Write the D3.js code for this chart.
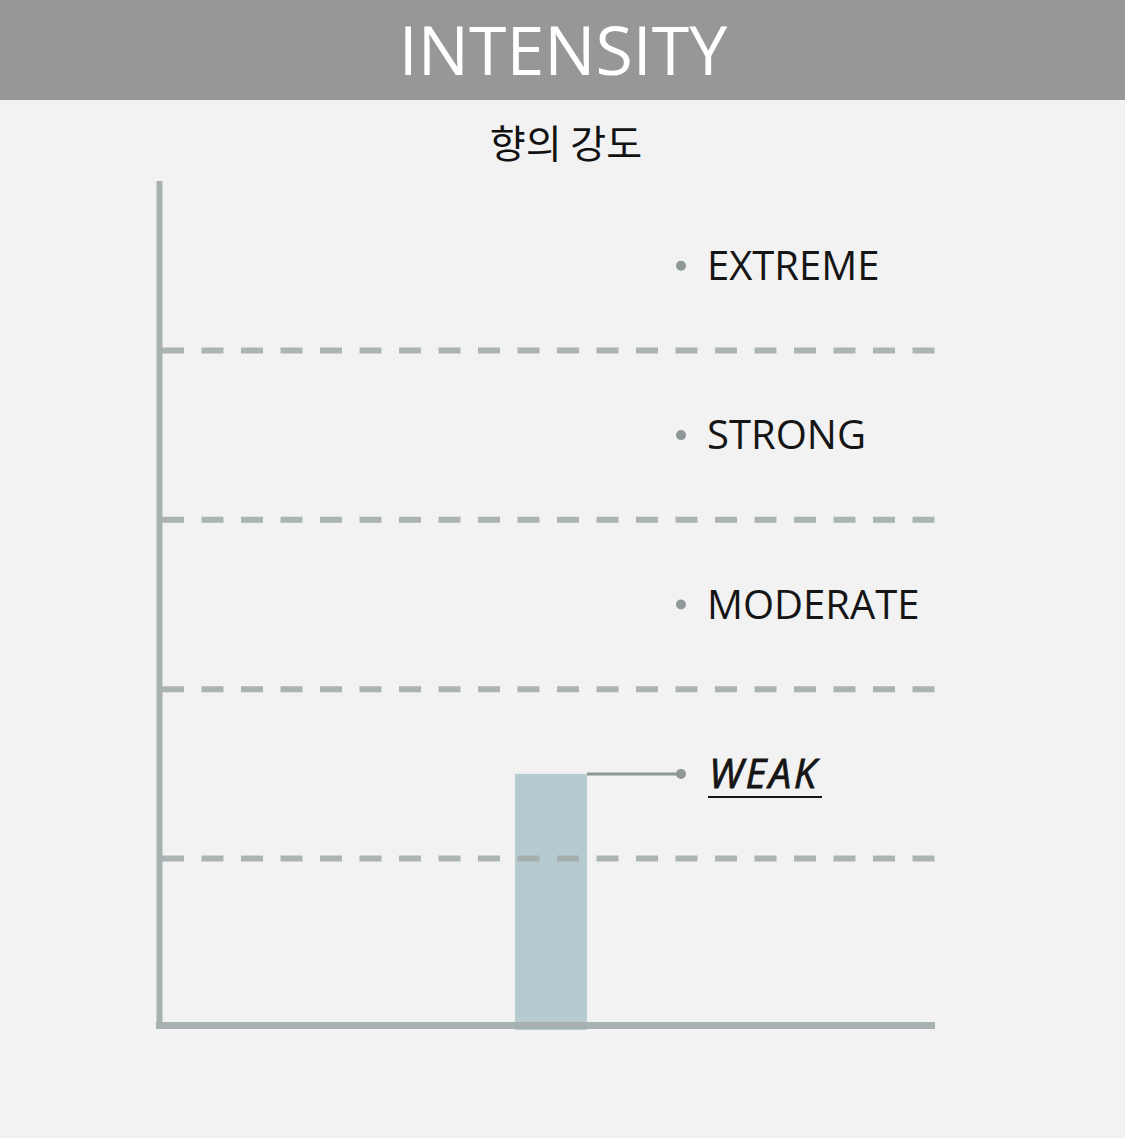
<!DOCTYPE html>
<html>
<head>
<meta charset="utf-8">
<script src="https://cdn.jsdelivr.net/npm/d3@7"></script>
<style>
  html, body { margin: 0; padding: 0; background: #f2f2f2; }
  svg { display: block; }
</style>
</head>
<body>
<script>
// data
const levels = ["WEAK", "MODERATE", "STRONG", "EXTREME"];
const boundaries = [1, 2, 3, 4];
const category = ["향의 강도"];
const intensity = ["WEAK"];

function createChart() {
    const svgWidth = 1125, svgHeight = 1138;

    const svg = d3.create("svg")
        .attr("width", svgWidth)
        .attr("height", svgHeight)
        .style("background", "#f2f2f2");

    // header band
    svg.append("rect")
        .attr("x", 0).attr("y", 0)
        .attr("width", svgWidth).attr("height", 100)
        .attr("fill", "#979797");

    svg.append("text")
        .attr("x", 563)
        .attr("y", 75)
        .attr("text-anchor", "middle")
        .attr("fill", "#fff")
        .style("font-family", "'Open Sans', 'Noto Sans', sans-serif")
        .style("font-size", "68px")
        .text("INTENSITY");

    svg.append("text")
        .attr("x", 566)
        .attr("y", 158)
        .attr("text-anchor", "middle")
        .attr("fill", "#111")
        .style("font-family", "'Noto Sans CJK KR', sans-serif")
        .style("font-size", "39px")
        .text(category[0]);

    // scales
    const y = d3.scaleLinear()
        .domain([0, 5])
        .range([1028, 181]);
    const x = d3.scaleBand()
        .domain(category)
        .range([163, 939])
        .paddingInner(0)
        .paddingOuter(4.89);

    const g = svg.append("g");

    // bar
    const lvl = levels.indexOf(intensity[0]) + 1.5;
    g.append("rect")
        .attr("x", x(category[0]))
        .attr("y", y(lvl))
        .attr("width", x.bandwidth())
        .attr("height", y(0) - y(lvl) + 2)
        .attr("fill", "#b6cbd0");

    // dashed level lines
    g.selectAll("line.grid")
        .data(boundaries)
        .join("line")
        .attr("class", "grid")
        .attr("x1", 162)
        .attr("x2", 935)
        .attr("y1", d => y(d))
        .attr("y2", d => y(d))
        .attr("stroke", "#a3acac")
        .attr("stroke-opacity", 0.9)
        .attr("stroke-width", 6)
        .attr("stroke-dasharray", "22 17.5");

    // axes
    g.append("line")
        .attr("x1", 159.5).attr("x2", 159.5)
        .attr("y1", y(5)).attr("y2", 1029)
        .attr("stroke", "#a8b1b2")
        .attr("stroke-width", 6);
    g.append("line")
        .attr("x1", 156).attr("x2", 935)
        .attr("y1", 1025.4).attr("y2", 1025.4)
        .attr("stroke", "#a8b1b2")
        .attr("stroke-width", 7);

    // connector from bar to its label
    g.append("line")
        .attr("x1", x(category[0]) + x.bandwidth())
        .attr("x2", 681)
        .attr("y1", y(lvl))
        .attr("y2", y(lvl))
        .attr("stroke", "#8e9696")
        .attr("stroke-width", 3);

    // level labels
    const lab = g.selectAll("g.lab")
        .data(levels)
        .join("g")
        .attr("class", "lab")
        .attr("transform", (d, i) => `translate(0,${y(i + 1.5)})`);

    lab.append("circle")
        .attr("cx", 681)
        .attr("cy", 0)
        .attr("r", 5)
        .attr("fill", "#8f9898");

    lab.append("text")
        .attr("x", d => d === intensity[0] ? 709 : 707)
        .attr("y", 14)
        .attr("fill", "#151515")
        .attr("stroke", d => d === intensity[0] ? "#151515" : "none")
        .attr("stroke-width", 0.8)
        .style("font-family", "'Open Sans', 'Noto Sans', sans-serif")
        .style("font-size", "40px")
        .style("font-style", d => d === intensity[0] ? "italic" : "normal")
        .style("letter-spacing", d => d === intensity[0] ? "2.5px" : "0px")
        .text(d => d);

    // underline under the selected level
    lab.filter(d => d === intensity[0])
        .append("line")
        .attr("x1", 708).attr("x2", 822)
        .attr("y1", 23).attr("y2", 23)
        .attr("stroke", "#151515")
        .attr("stroke-width", 2);

    document.body.append(svg.node());
}

createChart();
</script>
</body>
</html>
